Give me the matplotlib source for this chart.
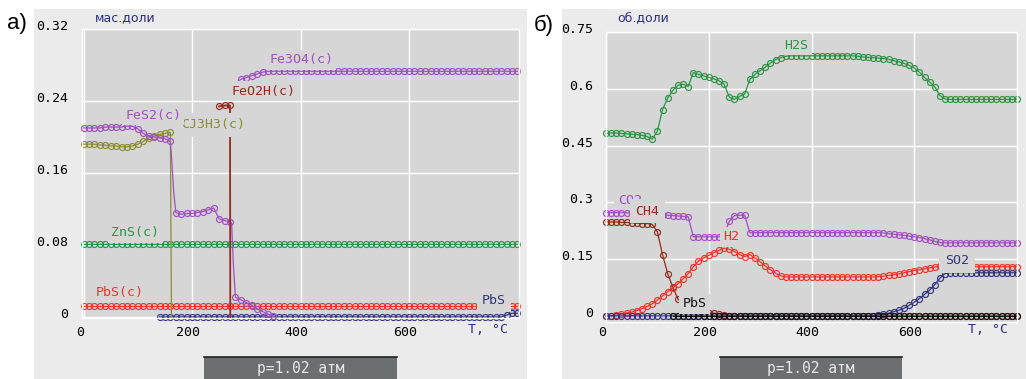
import matplotlib
matplotlib.use('Agg')
import matplotlib.pyplot as plt
from matplotlib.patches import Rectangle
from matplotlib.lines import Line2D
from matplotlib.transforms import ScaledTranslation

# ---------------- data ----------------
T = list(range(0, 801, 10))

# left panel (mass fractions)
ZnS_c = [0.081] * 81
PbS_c = [0.012] * 81
PbS_gas_T = list(range(140, 801, 10))
PbS_gas = [0.0] * 64 + [0.002, 0.004, 0.004]

olive_T = list(range(0, 161, 10)) + [162]
olive = [0.192, 0.192, 0.192, 0.191, 0.191, 0.190, 0.190, 0.189, 0.189, 0.190,
         0.192, 0.195, 0.199, 0.201, 0.203, 0.204, 0.205, 0.0]

FeS2_T = list(range(0, 161, 10)) + [163, 166] + list(range(170, 271, 10)) + [273, 276] + list(range(280, 351, 10))
FeS2 = [0.210, 0.210, 0.210, 0.210, 0.211, 0.211, 0.211, 0.211, 0.212, 0.212,
        0.209, 0.204, 0.201, 0.200, 0.199, 0.198, 0.195,
        0.170, 0.140,
        0.116, 0.114, 0.115, 0.115, 0.116, 0.117, 0.119, 0.121, 0.109, 0.107, 0.106,
        0.104, 0.060,
        0.022, 0.019, 0.016, 0.013, 0.009, 0.006, 0.003, 0.001]

FeO2H_T = [250, 260, 270, 270.5]
FeO2H = [0.234, 0.235, 0.235, 0.0]

Fe3O4_T = [285] + list(range(290, 801, 10))
Fe3O4 = [0.262, 0.264, 0.266, 0.268, 0.270, 0.272, 0.273] + [0.273] * 46

# right panel (volume fractions)
H2S = ([0.482, 0.483, 0.483, 0.482, 0.481, 0.480, 0.479, 0.477, 0.474, 0.467,
        0.488, 0.545, 0.575, 0.596, 0.609, 0.612, 0.606, 0.643, 0.638, 0.634,
        0.630, 0.626, 0.621, 0.612, 0.578, 0.572, 0.580, 0.586, 0.625, 0.638,
        0.648, 0.657, 0.668, 0.677, 0.682, 0.686]
       + [0.687] * 13
       + [0.686, 0.684, 0.683, 0.682, 0.681, 0.680, 0.678, 0.674, 0.671, 0.667,
          0.662, 0.655, 0.644, 0.630, 0.618, 0.605, 0.582, 0.573]
       + [0.572] * 14)

CO2 = ([0.273] * 4
       + [0.272, 0.271, 0.270, 0.269, 0.268, 0.268, 0.267, 0.267, 0.266, 0.265, 0.264, 0.263, 0.262]
       + [0.209] * 6
       + [0.216, 0.250, 0.265, 0.266, 0.266]
       + [0.220] * 26
       + [0.219, 0.217, 0.216, 0.214, 0.213, 0.211, 0.209, 0.207, 0.204, 0.201, 0.197, 0.194]
       + [0.193] * 15)

CH4 = ([0.248, 0.248, 0.248, 0.247, 0.247, 0.246, 0.245, 0.244, 0.244, 0.242,
        0.222, 0.162, 0.112, 0.076, 0.045, 0.030, 0.020, 0.015, 0.010, 0.009,
        0.008, 0.007, 0.006, 0.003, 0.001]
       + [0.0] * 56)

H2 = ([0.000, 0.000, 0.002, 0.005, 0.008, 0.010, 0.014, 0.019, 0.025, 0.032,
       0.042, 0.053, 0.064, 0.074, 0.085, 0.098, 0.112, 0.130, 0.145, 0.153,
       0.160, 0.167, 0.173, 0.179, 0.176, 0.170, 0.162, 0.157, 0.162, 0.153,
       0.143, 0.132, 0.122, 0.113, 0.106, 0.103]
      + [0.103] * 17
      + [0.104, 0.105, 0.107, 0.109, 0.111, 0.114, 0.117, 0.120, 0.122, 0.124, 0.127, 0.129, 0.131]
      + [0.130] * 15)

SO2 = ([0.0] * 52
       + [0.001, 0.002, 0.004, 0.007, 0.011, 0.015, 0.020, 0.028, 0.036, 0.046,
          0.057, 0.068, 0.083, 0.100, 0.112]
       + [0.114] * 14)

PbS_r_T = list(range(130, 801, 10))
PbS_r = [0.0] * 68

left_yticks = [0, 0.08, 0.16, 0.24, 0.32]
left_ylabels = ['0', '0.08', '0.16', '0.24', '0.32']
right_yticks = [0, 0.15, 0.3, 0.45, 0.6, 0.75]
right_ylabels = ['0', '0.15', '0.3', '0.45', '0.6', '0.75']
xticks = [0, 200, 400, 600]

# ---------------- styling ----------------
W, H = 1026, 379
MONO = 'DejaVu Sans Mono'
PURPLE = '#a24fc2'
OLIVE = '#8a8e2c'
DARKRED = '#952a1c'
GREEN = '#2b9445'
RED = '#f0342c'
NAVY = '#34357f'
BLACK = '#111111'
PLOTBG = '#d6d6d6'
PANEL = '#ebebeb'
AXBLUE = '#2e2e80'

fig = plt.figure(figsize=(W / 100, H / 100), dpi=100)
fig.patch.set_facecolor('white')


def fx(px):
    return px / W


def fy(py):
    return 1 - py / H


# panel backgrounds
for x0, x1 in [(34, 527), (562, 1026)]:
    fig.add_artist(Rectangle((fx(x0), 0), fx(x1) - fx(x0), fy(9), transform=fig.transFigure,
                             facecolor=PANEL, edgecolor='none', zorder=-5))

# bottom pressure boxes
for x0, x1 in [(204, 397), (720, 902)]:
    fig.add_artist(Rectangle((fx(x0), 0), fx(x1) - fx(x0), fy(357), transform=fig.transFigure,
                             facecolor='#6c6f6f', edgecolor='none', zorder=1))
    fig.add_artist(Line2D([fx(x0), fx(x1)], [fy(357), fy(357)], transform=fig.transFigure,
                          color='#222222', lw=1.2, zorder=2))
    fig.text(fx((x0 + x1) / 2), fy(368), 'p=1.02 атм', ha='center', va='center',
             color='#e8e8e8', fontsize=10.5, family=MONO, zorder=3)

# panel letters and unit labels
fig.text(fx(7), fy(24), 'а)', fontsize=16, family='Liberation Sans', va='center', ha='left')
fig.text(fx(534), fy(25), 'б)', fontsize=16, family='Liberation Sans', va='center', ha='left')
fig.text(fx(95), fy(18), 'мас.доли', fontsize=9, color=AXBLUE, va='center', ha='left')
fig.text(fx(617), fy(18), 'об.доли', fontsize=9, color=AXBLUE, va='center', ha='left')

axL = fig.add_axes([fx(82), fy(318), fx(519) - fx(82), fy(29) - fy(318)])
axR = fig.add_axes([fx(606), fy(322), fx(1017) - fx(606), fy(32) - fy(322)])


def style(ax, xlim, ylim, yticks, ylabels, xpad, ypad):
    ax.set_facecolor(PLOTBG)
    ax.set_xlim(*xlim)
    ax.set_ylim(*ylim)
    ax.set_xticks(xticks)
    ax.set_xticklabels([str(v) for v in xticks])
    ax.set_yticks(yticks)
    ax.set_yticklabels(ylabels)
    ax.tick_params(length=0, labelsize=9.5, labelcolor='black')
    ax.tick_params(axis='x', pad=xpad)
    ax.tick_params(axis='y', pad=ypad)
    for lab in ax.get_xticklabels() + ax.get_yticklabels():
        lab.set_family(MONO)
    ax.grid(True, color='white', lw=1)
    ax.set_axisbelow(True)
    for s in ax.spines.values():
        s.set_color('white')
        s.set_linewidth(1)
    offx = ScaledTranslation(-4 / 100, 0, fig.dpi_scale_trans)
    offy = ScaledTranslation(0, 4 / 100, fig.dpi_scale_trans)
    for t in ax.xaxis.get_major_ticks():
        t.label1.set_transform(t.label1.get_transform() + offx)
    for t in ax.yaxis.get_major_ticks():
        t.label1.set_transform(t.label1.get_transform() + offy)


style(axL, (-3, 803), (-0.0012, 0.32), left_yticks, left_ylabels, 6, 10)
style(axR, (0, 800), (-0.016, 0.75), right_yticks, right_ylabels, 3, 9)


def series(ax, xs, ys, color, z=2, lw=0.9):
    mk = [float(x) % 10 == 0 for x in xs]
    ax.plot(xs, ys, color=color, lw=lw, marker='o', ms=4.3, mfc='none', mew=0.85,
            markevery=mk, zorder=z, clip_on=False)


def label(ax, x, y, s, color, ha='center', box=True, pad=2.5):
    kw = dict(ha=ha, va='center', color=color, fontsize=9.5, family=MONO, zorder=6)
    if box:
        kw['bbox'] = dict(facecolor=PLOTBG, edgecolor='none', pad=pad)
    ax.text(x, y, s, **kw)


# left panel
series(axL, T, ZnS_c, GREEN)
series(axL, T, PbS_c, RED)
series(axL, PbS_gas_T, PbS_gas, NAVY)
series(axL, olive_T, olive, OLIVE)
series(axL, FeS2_T, FeS2, PURPLE, z=3)
series(axL, FeO2H_T, FeO2H, DARKRED, z=3, lw=1.3)
series(axL, Fe3O4_T, Fe3O4, PURPLE)

label(axL, 401, 0.2856, 'Fe3O4(c)', PURPLE)
label(axL, 331, 0.251, 'FeO2H(c)', DARKRED)
label(axL, 297, 0.2135, 'CJ3H3(c)', OLIVE, ha='right', pad=4)
label(axL, 128, 0.224, 'FeS2(c)', PURPLE)
label(axL, 95, 0.0933, 'ZnS(c)', GREEN)
label(axL, 67, 0.0267, 'PbS(c)', RED)
label(axL, 757, 0.0178, 'PbS', NAVY, pad=3.5)
axL.text(746, -0.0144, 'T, °C', ha='center', va='center', color=AXBLUE, fontsize=9.5, family=MONO)

# right panel
series(axR, T, H2S, GREEN)
series(axR, T, CO2, PURPLE)
series(axR, T, CH4, DARKRED)
series(axR, T, H2, RED)
series(axR, T, SO2, NAVY)
series(axR, PbS_r_T, PbS_r, BLACK)

label(axR, 371, 0.715, 'H2S', GREEN)
label(axR, 46, 0.305, 'CO2', PURPLE)
label(axR, 81, 0.276, 'CH4', DARKRED, pad=4)
label(axR, 244, 0.209, 'H2', RED)
label(axR, 172, 0.032, 'PbS', BLACK)
label(axR, 683, 0.146, 'SO2', NAVY, pad=4.5)
axR.text(743, -0.037, 'T, °C', ha='center', va='center', color=AXBLUE, fontsize=9.5, family=MONO)

fig.savefig('out.png', dpi=100, facecolor='white')
